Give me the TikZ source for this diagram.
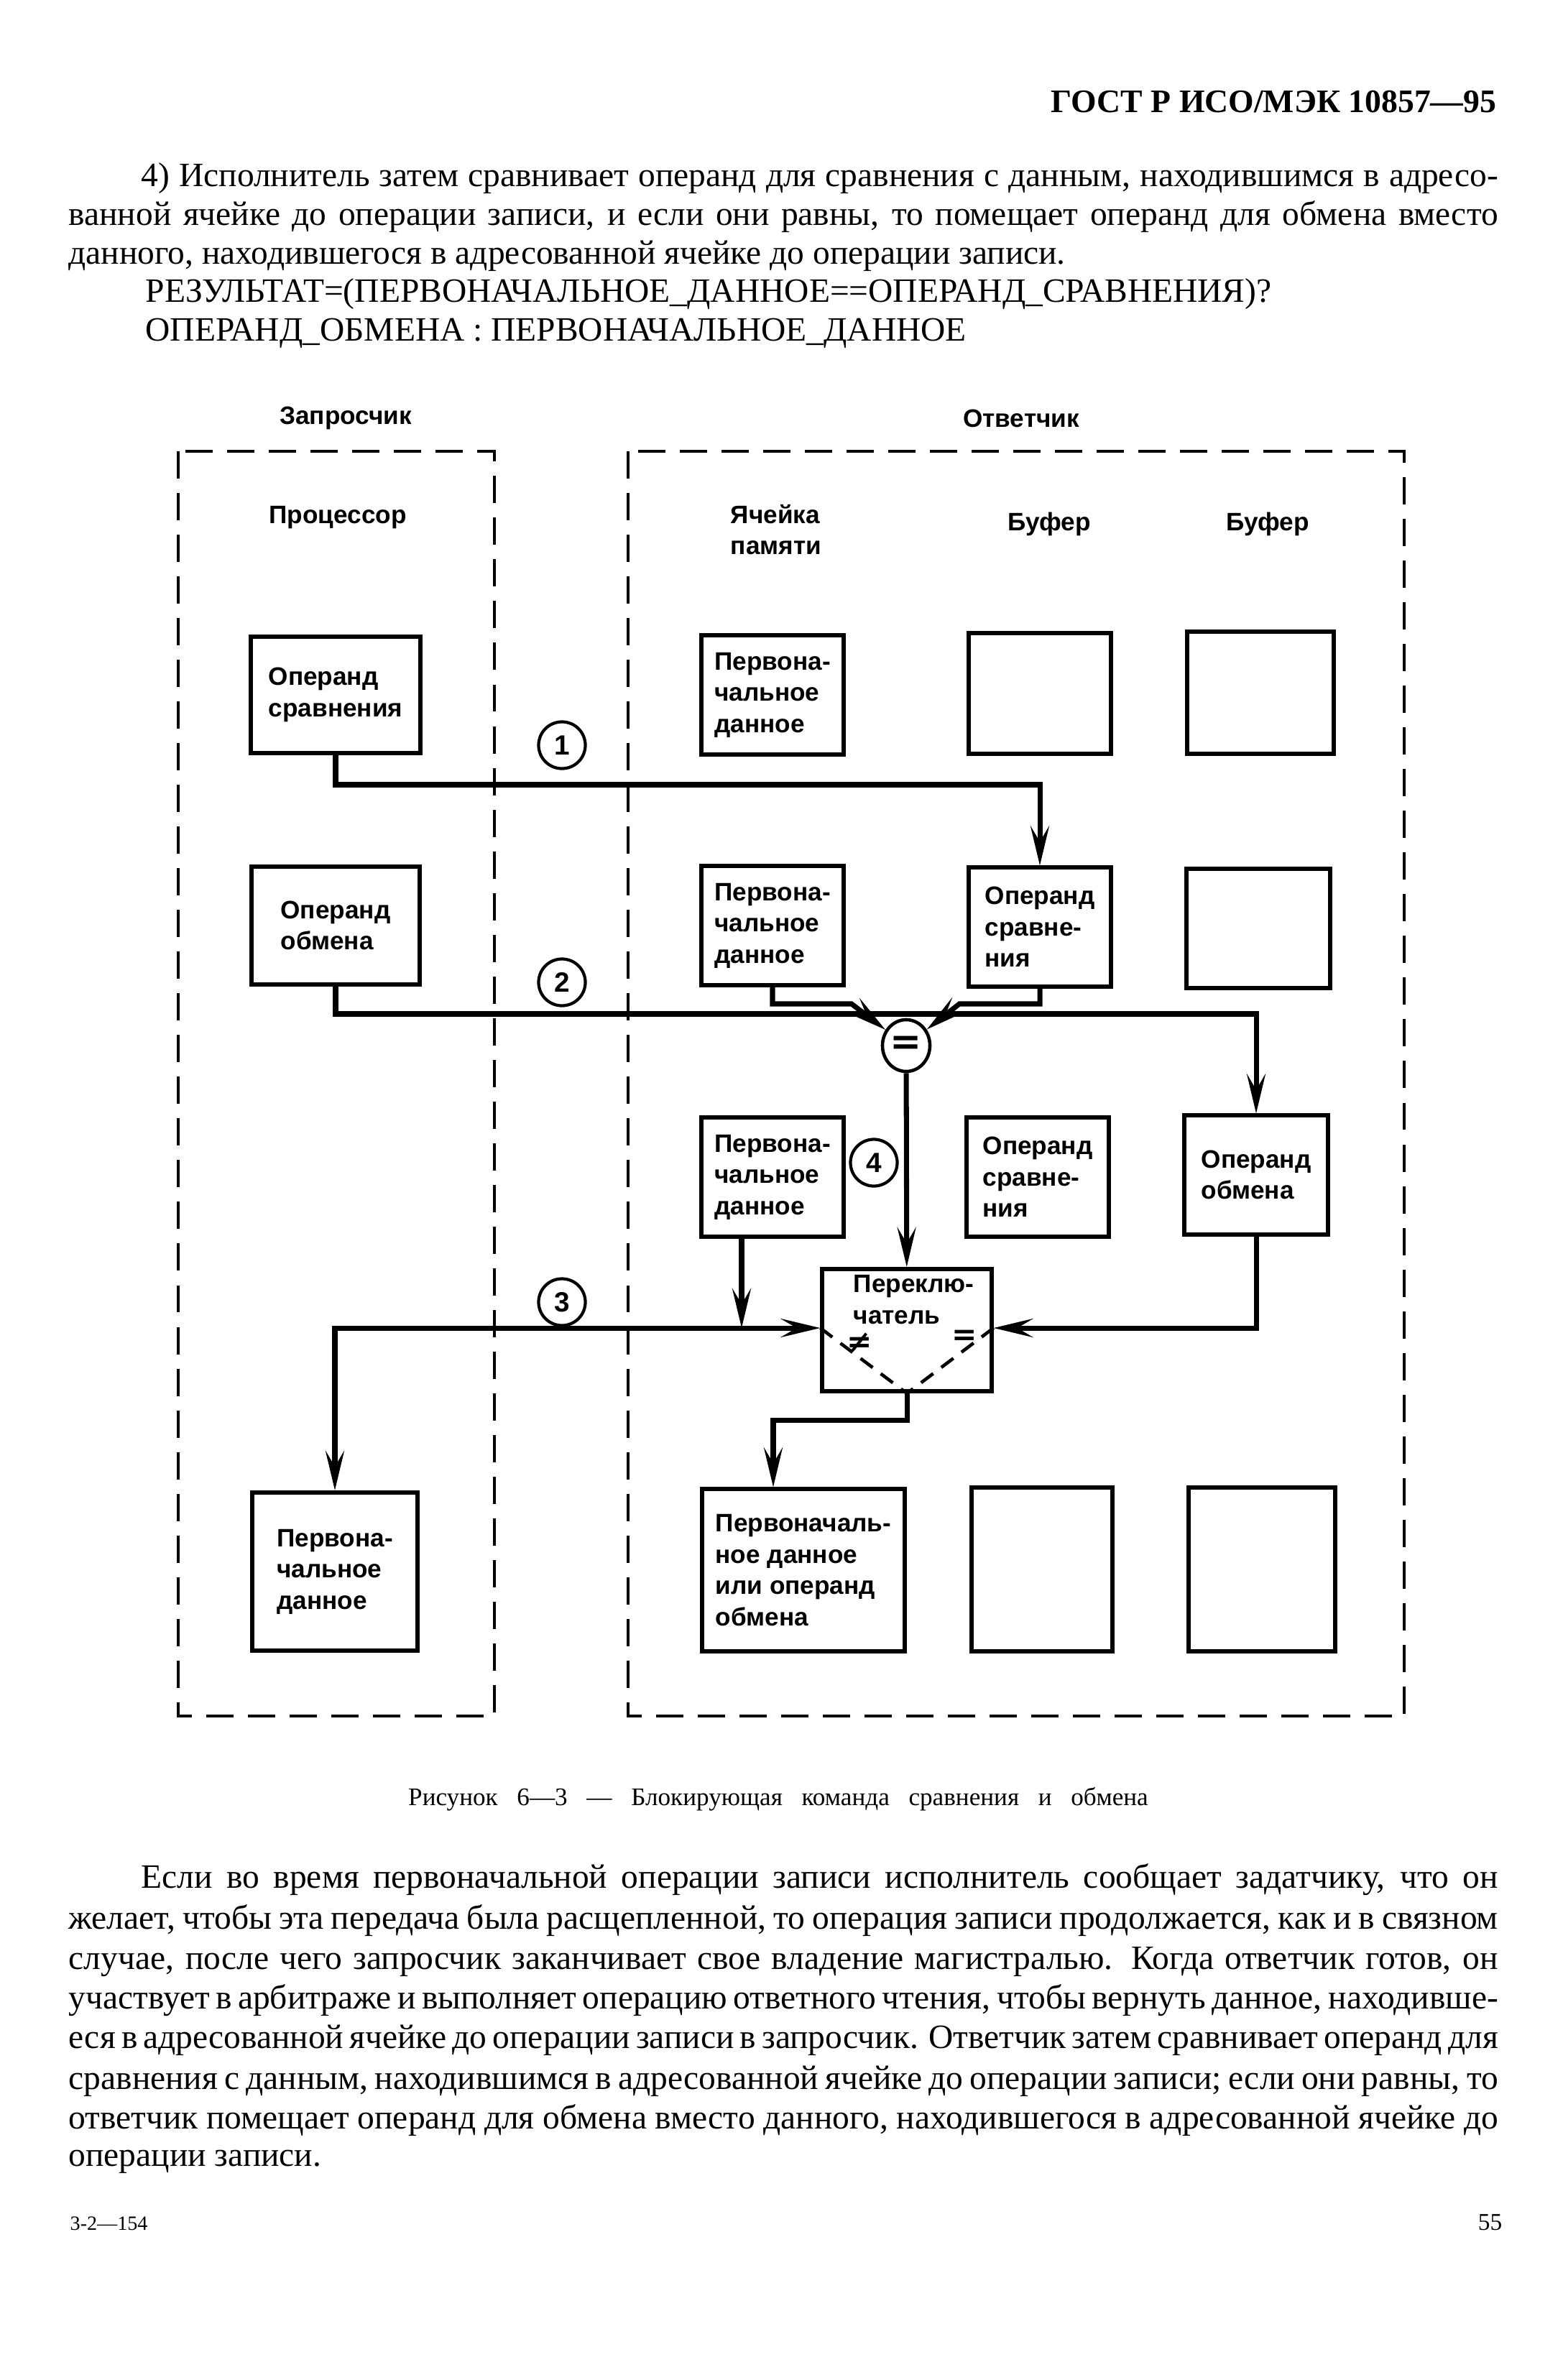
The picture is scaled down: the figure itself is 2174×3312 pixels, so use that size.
\documentclass[tikz,border=0pt]{standalone}
\usepackage{fontspec}
\setmainfont{Liberation Serif}
\newfontfamily\diagfont{Liberation Sans}
\newfontfamily\symbfont{DejaVu Sans}
\usetikzlibrary{arrows.meta,shapes.geometric,calc}

\newcommand\lbl{\diagfont\bfseries\fontsize{10}{12.4}\selectfont}
\newcommand\bodyfont{\fontsize{13.5}{16}\selectfont}

\tikzset{
  arrowhd/.tip={Stealth[length=5.5mm,width=2.6mm,inset=2.2mm]},
  zone/.style={line width=1.4pt, dash pattern=on 10.8pt off 5.7pt},
  cell/.style={draw, line width=1.7pt, minimum width=1.97cm, minimum height=1.65cm, inner sep=1pt, font=\lbl, align=left},
  conn/.style={line width=2pt, -arrowhd},
  num/.style={circle, draw, line width=1.2pt, minimum size=0.65cm, inner sep=0pt, font=\diagfont\bfseries\fontsize{11}{12}\selectfont},
  head/.style={font=\lbl, align=left},
  txt/.style={anchor=base west, inner sep=0pt, font=\bodyfont},
}

\begin{document}
\begin{tikzpicture}[x=0.01cm, y=-0.01cm]
\useasboundingbox (0,0) rectangle (2174,3312);

% page text
\node[anchor=base east, inner sep=0pt, font=\bfseries\fontsize{13}{16}\selectfont] (gost) at (2083,157) {ГОСТ Р ИСО/МЭК 10857—95};
\node[txt] (p1a) at (196,260) {\makebox[18.87cm][s]{4) Исполнитель затем сравнивает операнд для сравнения с данным, находившимся в адресо-}};
\node[txt] (p1b) at (95,313) {\makebox[19.88cm][s]{ванной ячейке до операции записи, и если они равны, то помещает операнд для обмена вместо}};
\node[txt] (p1c) at (95,367) {данного, находившегося в адресованной ячейке до операции записи.};
\node[txt] (p1d) at (202,420) {РЕЗУЛЬТАТ=(ПЕРВОНАЧАЛЬНОЕ\_ДАННОЕ==ОПЕРАНД\_СРАВНЕНИЯ)?};
\node[txt] (p1e) at (202,474) {ОПЕРАНД\_ОБМЕНА : ПЕРВОНАЧАЛЬНОЕ\_ДАННОЕ};

% zones
\draw[zone] (248,628) rectangle (688,2388);
\draw[zone] (874,628) rectangle (1954,2388);

\node[head] (reqt) at (481,582) {Запросчик};
\node[head] (rspt) at (1421,582) {Ответчик};
\node[head] (cpu) at (470,720) {Процессор};
\node[head] (memt) at (1080,737) {Ячейка\\памяти};
\node[head] (bufta) at (1460,729) {Буфер};
\node[head] (buftb) at (1764,729) {Буфер};

% requester
\node[cell, minimum width=2.35cm, minimum height=1.62cm] (cmpA) at (467,967) {Операнд\\сравнения};
\node[cell, minimum width=2.34cm, minimum height=1.63cm] (xchA) at (467,1288) {Операнд\\обмена};
\node[cell, minimum width=2.30cm, minimum height=2.20cm] (datA) at (466,2187) {Первона-\\чальное\\данное};

% responder
\node[cell] (mem1) at (1075,967) {Первона-\\чальное\\данное};
\node[cell, minimum height=1.68cm] (bufA1) at (1447,965) {};
\node[cell, minimum width=2.03cm, minimum height=1.70cm] (bufB1) at (1754,964) {};
\node[cell] (mem2) at (1075,1288) {Первона-\\чальное\\данное};
\node[cell] (cmp2) at (1447,1290) {Операнд\\сравне-\\ния};
\node[cell, minimum width=2.0cm] (bufB2) at (1751,1292) {};
\node[cell] (mem3) at (1075,1638) {Первона-\\чальное\\данное};
\node[cell] (cmp3) at (1444,1638) {Операнд\\сравне-\\ния};
\node[cell, minimum width=2.0cm] (xch3) at (1748,1635) {Операнд\\обмена};
\node[cell, minimum width=2.82cm, minimum height=2.25cm] (res) at (1118,2185) {Первоначаль-\\ное данное\\или операнд\\обмена};
\node[cell, minimum width=1.95cm, minimum height=2.28cm] (bufA4) at (1450,2184) {};
\node[cell, minimum width=2.03cm, minimum height=2.28cm] (bufB4) at (1756,2184) {};

\node[draw, ellipse, line width=1.3pt, minimum width=0.66cm, minimum height=0.72cm, inner sep=0pt, font=\symbfont\bfseries\fontsize{15}{15}\selectfont] (eq) at (1261,1455) {=};
\node[draw, line width=1.7pt, minimum width=2.35cm, minimum height=1.70cm] (sw) at (1262,1851) {};
\node[head, anchor=base west, inner sep=0pt] (swl) at (1187,1842) {Переклю-\\чатель};
\node[inner sep=0pt, font=\symbfont\bfseries\fontsize{12}{12}\selectfont] (neq) at (1196,1868) {≠};
\node[inner sep=0pt, font=\symbfont\bfseries\fontsize{12}{12}\selectfont] (eqs) at (1342,1861) {=};

\node[num] (n1) at (782,1037) {1};
\node[num] (n2) at (782,1367) {2};
\node[num] (n3) at (782,1812) {3};
\node[num] (n4) at (1216,1618) {4};

% connectors
\coordinate (bus1) at (0,1092);
\coordinate (bus2) at (0,1411);
\coordinate (eqL) at (1185,1397);
\coordinate (eqR) at (1335,1397);
\coordinate (bus3) at (1032,1848);
\coordinate (resin) at (1076,0);

\draw[conn] (cmpA.south) -- (cmpA.south |- bus1) -| (cmp2.north);
\draw[conn] (xchA.south) -- (xchA.south |- bus2) -| (xch3.north);
\draw[conn] (mem2.south) |- (eqL) -- (eq);
\draw[conn] (cmp2.south) |- (eqR) -- (eq);
\draw[conn] (eq) -- (sw);
\draw[conn] (mem3.south -| bus3) -- (bus3);
\draw[conn, arrowhd-arrowhd] (sw.west |- bus3) -| (datA.north);
\draw[conn] (xch3.south) |- (sw.east |- bus3);
\draw[conn] (sw.south) -- ++(0,37) -| (res.north -| resin);
\draw[line width=1.3pt, dash pattern=on 6pt off 4pt] (sw.west |- bus3) -- (sw.south) -- (sw.east |- bus3);

% caption and text below
\node[anchor=base, inner sep=0pt, font=\fontsize{10}{12}\selectfont] (cap) at (1083,2512) {\makebox[10.29cm][s]{Рисунок 6—3 — Блокирующая команда сравнения и обмена}};
\node[txt] (p2a) at (196,2627) {\makebox[18.87cm][s]{Если во время первоначальной операции записи исполнитель сообщает задатчику, что он}};
\node[txt] (p2b) at (95,2684) {\makebox[19.88cm][s]{желает, чтобы эта передача была расщепленной, то операция записи продолжается, как и в связном}};
\node[txt] (p2c) at (95,2740) {\makebox[19.88cm][s]{случае, после чего запросчик заканчивает свое владение магистралью. Когда ответчик готов, он}};
\node[txt] (p2d) at (95,2795) {\makebox[19.88cm][s]{участвует в арбитраже и выполняет операцию ответного чтения, чтобы вернуть данное, находивше-}};
\node[txt] (p2e) at (95,2850) {\makebox[19.88cm][s]{еся в адресованной ячейке до операции записи в запросчик. Ответчик затем сравнивает операнд для}};
\node[txt] (p2f) at (95,2907) {\makebox[19.88cm][s]{сравнения с данным, находившимся в адресованной ячейке до операции записи; если они равны, то}};
\node[txt] (p2g) at (95,2962) {\makebox[19.88cm][s]{ответчик помещает операнд для обмена вместо данного, находившегося в адресованной ячейке до}};
\node[txt] (p2h) at (95,3014) {операции записи.};

\node[anchor=base west, inner sep=0pt, font=\fontsize{8}{9}\selectfont] (foot) at (97,3103) {3-2—154};
\node[anchor=base east, inner sep=0pt, font=\fontsize{9.5}{11}\selectfont] (pgno) at (2091,3103) {55};
\end{tikzpicture}
\end{document}
